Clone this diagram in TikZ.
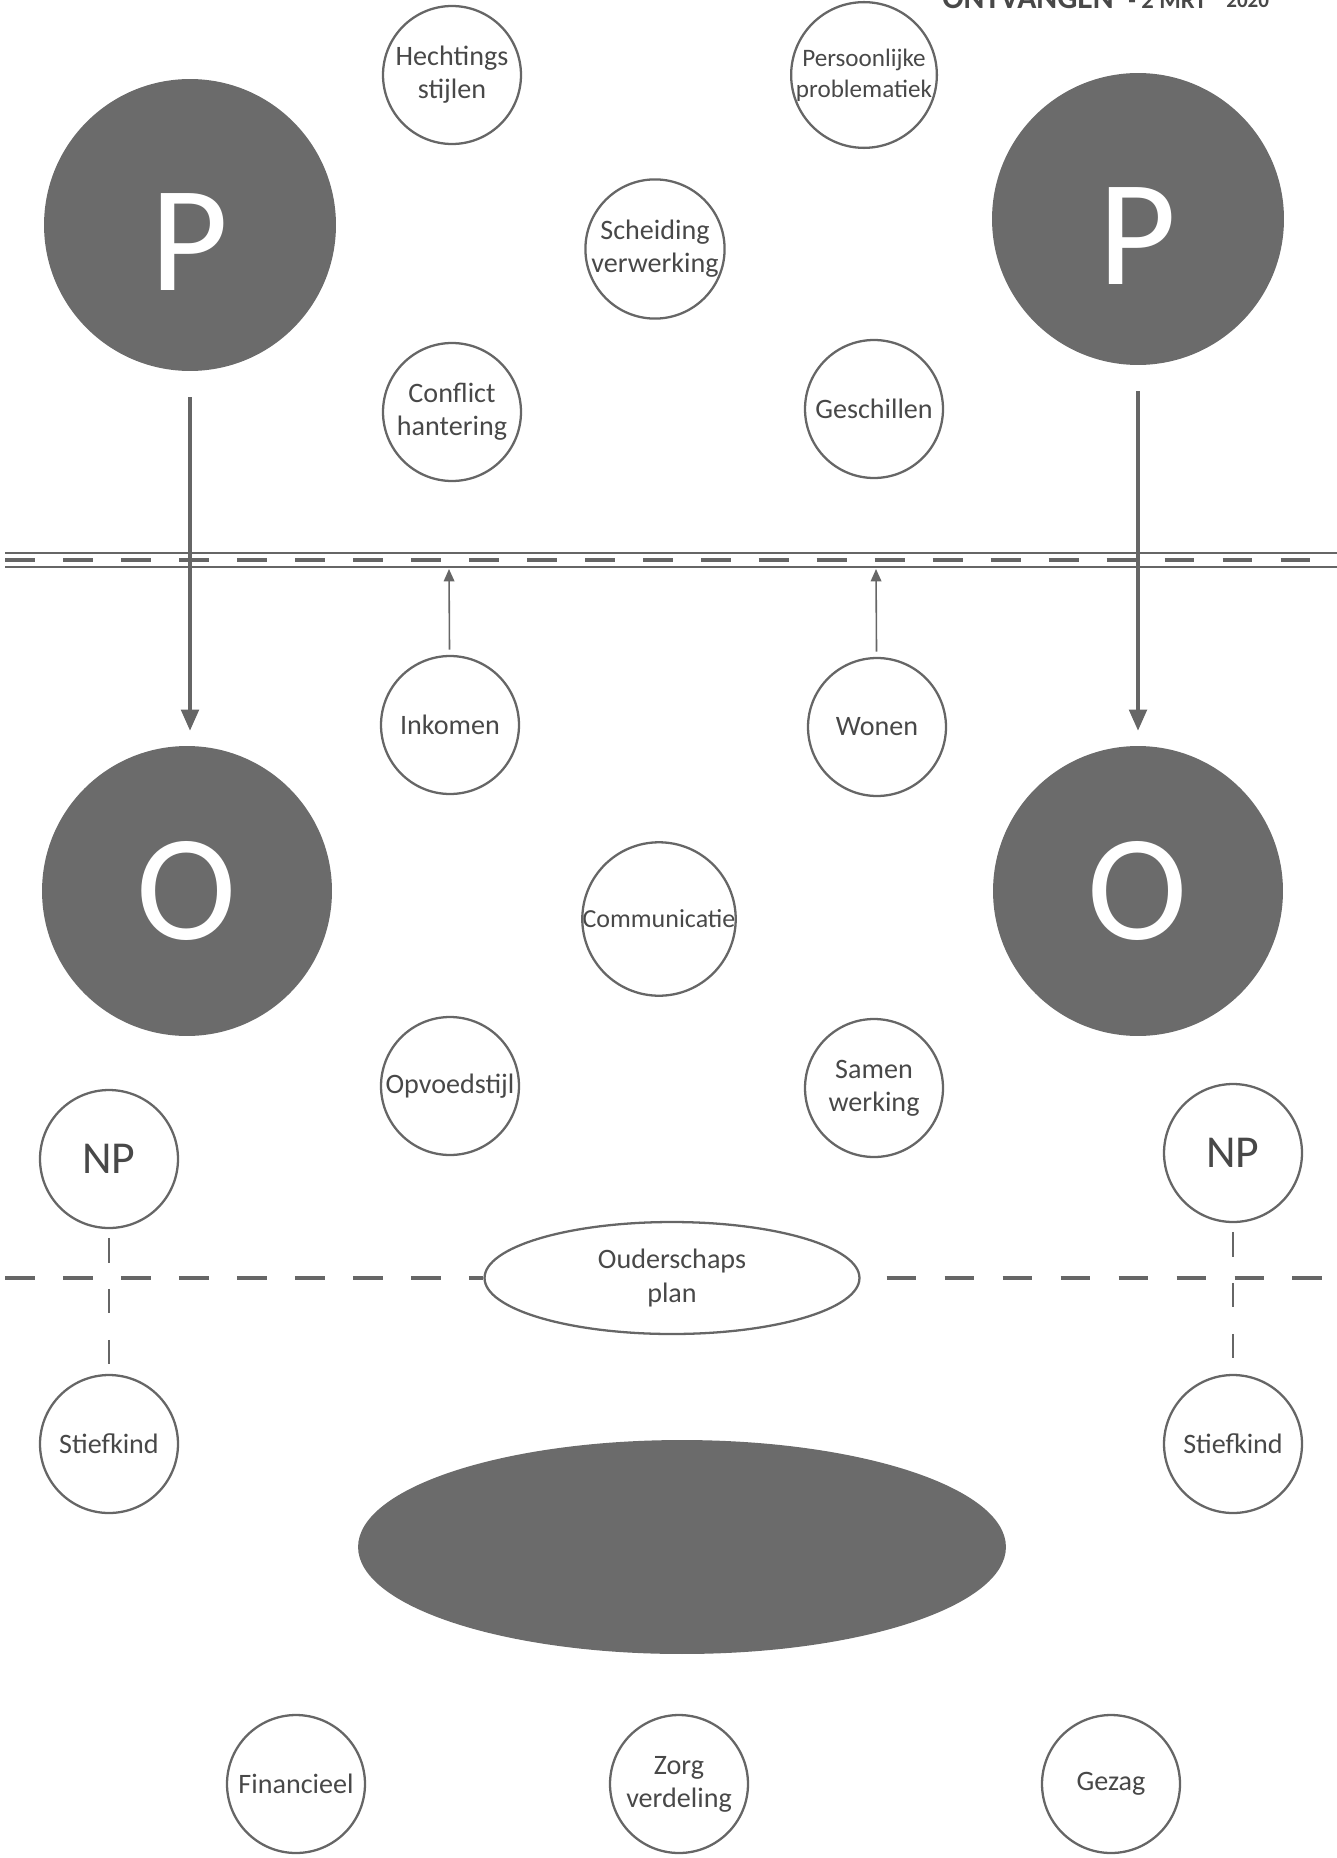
\documentclass[tikz,border=0pt]{standalone}
\usepackage{fontspec}
\setmainfont{Carlito}
\usetikzlibrary{arrows.meta,shapes.geometric}
\definecolor{lijn}{HTML}{666666}
\definecolor{vlak}{HTML}{6B6B6B}
\definecolor{tekst}{HTML}{484848}
\tikzset{
  thema/.style={circle,draw=lijn,line width=1.3pt,minimum size=2.76cm,inner sep=0pt,
    align=center,text=tekst,font=\fontsize{16}{18.8}\selectfont},
  ouder/.style={circle,fill=vlak,minimum size=5.84cm,inner sep=0pt,text=white,
    font=\fontsize{86}{86}\selectfont},
  pijl/.style={draw=lijn,line width=2pt,-{Triangle[length=12pt,width=10pt]}},
  pijltje/.style={draw=lijn,line width=0.9pt,-{Triangle[length=7pt,width=6pt]}},
  streep/.style={draw=lijn,line width=2.3pt,dash pattern=on 17pt off 16pt},
}
\begin{document}
\begin{tikzpicture}[x=0.02cm,y=-0.02cm]
  \useasboundingbox (0,0) rectangle (1337,1858);
  % stempel
  \node[anchor=base west,inner sep=0pt,text=tekst,font=\fontsize{18}{18}\selectfont\bfseries] (stempel) at (942,9) {ONTVANGEN};
  \node[anchor=base west,inner sep=0pt,text=tekst,font=\fontsize{14}{14}\selectfont\bfseries] (datum) at (1128,9) {- 2 MRT};
  \node[anchor=base west,inner sep=0pt,text=tekst,font=\fontsize{12}{12}\selectfont\bfseries] (jaar) at (1226,8) {2020};
  % ouders
  \node[ouder] (pl) at (190,225) {\raisebox{-0.34cm}[\height][0pt]{P}};
  \node[ouder] (pr) at (1138,219) {\raisebox{-0.34cm}[\height][0pt]{P}};
  \node[ouder,minimum size=5.8cm] (ol) at (187,891) {O};
  \node[ouder,minimum size=5.8cm] (or) at (1138,891) {O};
  % bovenste laag
  \node[thema] (hecht) at (452,75) {Hechtings\\stijlen};
  \node[thema,font=\fontsize{14.3}{17.5}\selectfont] (pers) at (864,75) {Persoonlijke\\problematiek};
  \node[thema] (scheid) at (655,249) {Scheiding\\verwerking};
  \node[thema] (confl) at (452,412) {Conflict\\hantering};
  \node[thema] (gesch) at (874,409) {Geschillen};
  % grens
  \coordinate (gl) at (5,560);
  \coordinate (gr) at (1337,560);
  \draw[lijn,line width=1.1pt] (5,553) -- (1337,553) (5,567) -- (1337,567);
  \draw[streep] (gl) -- (gr);
  \coordinate (gi) at (449,569);
  \coordinate (gw) at (876,569);
  % onderste laag
  \node[thema] (ink) at (450,725) {Inkomen};
  \node[thema] (won) at (877,727) {Wonen};
  \node[thema,minimum size=2.92cm,font=\fontsize{14.8}{17}\selectfont] (comm) at (659,919) {Communicatie};
  \node[thema] (opv) at (450,1086) {Opvoedstijl};
  \node[thema] (samen) at (874,1088) {Samen\\werking};
  \node[thema,font=\fontsize{26}{26}\selectfont] (npl) at (109,1159) {NP};
  \node[thema,font=\fontsize{26}{26}\selectfont] (npr) at (1233,1153) {NP};
  \node[thema,ellipse,minimum width=7.5cm,minimum height=2.24cm] (plan) at (672,1278) {Ouderschaps\\plan};
  \node[thema] (stl) at (109,1444) {Stiefkind};
  \node[thema] (str) at (1233,1444) {Stiefkind};
  \node[ellipse,fill=vlak,minimum width=12.96cm,minimum height=4.28cm] (kind) at (682,1547) {};
  \node[thema] (fin) at (296,1784) {Financieel};
  \node[thema] (zorg) at (679,1784) {Zorg\\verdeling};
  \node[thema] (gez) at (1111,1784) {Gezag};
  % pijlen
  \draw[pijl,shorten <=0.52cm,shorten >=0.3cm] (pl.south) -- (pl.south |- ol.north);
  \draw[pijl,shorten <=0.52cm,shorten >=0.3cm] (pr.south) -- (pr.south |- or.north);
  \draw[pijltje,shorten <=3pt] (ink) -- (gi);
  \draw[pijltje,shorten <=3pt] (won) -- (gw);
  % lijn ouderschapsplan
  \coordinate (ll) at (5,1278);
  \coordinate (lr) at (1337,1278);
  \draw[streep] (ll) -- (plan.west);
  \draw[streep] (plan.east) ++(26,0) -- (lr);
  \draw[lijn,line width=1pt,dash pattern=on 14pt off 15pt,shorten <=5pt,shorten >=5pt] (npl) -- (stl);
  \draw[lijn,line width=1pt,dash pattern=on 14pt off 15pt,shorten <=5pt,shorten >=5pt] (npr) -- (str);
\end{tikzpicture}
\end{document}
